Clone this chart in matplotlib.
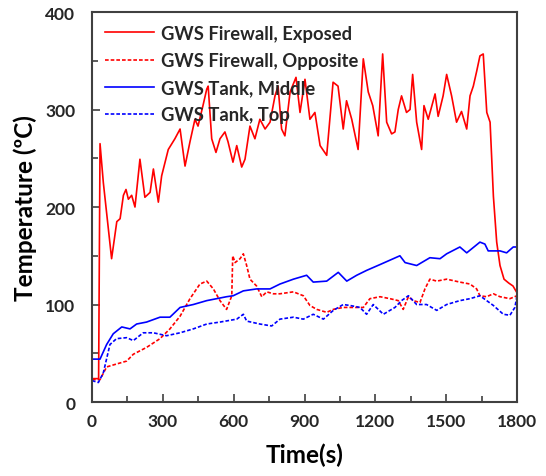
import matplotlib
matplotlib.use("Agg")
import matplotlib.pyplot as plt
from matplotlib.ticker import MultipleLocator

# Fire test: temperatures
t_exposed = [0, 28, 34, 48, 83, 105, 119, 133, 144, 154, 168, 182, 203, 224, 246, 260, 281,
             295, 323, 351, 373, 394, 415, 436, 449, 470, 486, 492, 507, 525, 542, 563, 576,
             597, 613, 634, 648, 669, 690, 711, 733, 754, 775, 788, 803, 817, 839, 864, 881,
             902, 923, 944, 966, 994, 1021, 1042, 1064, 1078, 1100, 1127, 1149, 1170, 1189,
             1212, 1231, 1248, 1269, 1283, 1297, 1311, 1332, 1347, 1358, 1375, 1396, 1406,
             1424, 1453, 1466, 1487, 1502, 1523, 1544, 1565, 1587, 1601, 1615, 1629, 1643,
             1657, 1672, 1686, 1700, 1714, 1728, 1745, 1765, 1783, 1800]
T_exposed = [24, 24, 265, 225, 147, 185, 188, 212, 218, 208, 212, 200, 249, 210, 215, 239, 205,
             232, 259, 270, 280, 242, 267, 290, 283, 304, 321, 324, 270, 256, 270, 277, 267,
             246, 263, 241, 249, 283, 270, 290, 280, 287, 314, 324, 280, 273, 318, 333, 297,
             331, 290, 297, 263, 253, 328, 324, 280, 309, 290, 259, 352, 318, 304,
             273, 357, 287, 275, 277, 300, 314, 297, 300, 336, 287, 259, 304,
             290, 316, 293, 314, 336, 314, 287, 298, 280, 314, 324, 339, 355,
             357, 297, 287, 211, 164, 140, 126, 122, 119, 112]

t_opposite = [0, 34, 62, 104, 147, 175, 231, 288, 330, 373, 415, 457, 486, 514, 542, 570, 592,
              596, 606, 627, 641, 655, 669, 697, 719, 740, 768, 796, 853, 895, 923, 952, 994,
              1022, 1064, 1107, 1149, 1177, 1220, 1262, 1297, 1318, 1340, 1361, 1389, 1410,
              1431, 1460, 1502, 1558, 1601, 1629, 1643, 1671, 1700, 1728, 1770, 1800]
T_opposite = [23, 23, 36, 39, 42, 49, 56, 65, 75, 88, 106, 121, 124, 116, 104, 95, 109,
              150, 143, 147, 152, 140, 126, 119, 108, 113, 111, 111, 113, 109, 99, 95, 92,
              95, 97, 97, 97, 106, 108, 106, 104, 95, 108, 104, 102, 116,
              126, 124, 126, 123, 121, 116, 109, 108, 111, 108, 106, 109]

t_middle = [0, 34, 62, 90, 126, 161, 189, 231, 288, 330, 373, 429, 486, 528, 570, 598, 641,
            697, 754, 796, 853, 909, 937, 994, 1043, 1079, 1121, 1163, 1220, 1276, 1304, 1326,
            1375, 1431, 1474, 1502, 1558, 1587, 1643, 1664, 1678, 1728, 1756, 1784, 1800]
T_middle = [44, 44, 59, 70, 77, 75, 80, 82, 87, 87, 97, 100, 104, 106, 108, 109, 114,
            116, 116, 121, 126, 130, 123, 124, 133, 124, 130, 135, 141, 147, 150, 143,
            140, 148, 147, 152, 159, 153, 164, 162, 155, 155, 153, 159, 159]

t_top = [0, 27, 48, 76, 104, 147, 175, 217, 260, 316, 373, 429, 486, 542, 613, 641, 655, 711,
         761, 796, 853, 895, 937, 980, 1022, 1064, 1093, 1135, 1163, 1191, 1234, 1283, 1311,
         1340, 1375, 1417, 1460, 1502, 1558, 1601, 1643, 1700, 1742, 1770, 1791, 1800]
T_top = [22, 20, 30, 59, 65, 66, 63, 71, 71, 68, 71, 75, 80, 82, 85, 90, 83, 80,
         78, 85, 87, 85, 90, 85, 94, 100, 99, 97, 90, 100, 90, 97, 104,
         109, 100, 100, 94, 100, 104, 106, 109, 99, 90, 89, 97, 109]

labels = ["GWS Firewall, Exposed", "GWS Firewall, Opposite", "GWS Tank, Middle", "GWS Tank, Top"]

plt.rcParams['font.family'] = ['Lato', 'DejaVu Sans']
plt.rcParams['font.weight'] = 'bold'

fig = plt.figure(figsize=(5.46, 4.77), dpi=100)
ax = fig.add_axes([0.1685, 0.1551, 0.7784, 0.8176])

dash = (0, (2.2, 1.2))
ax.plot(t_exposed, T_exposed, color='#ff0000', lw=1.2, label=labels[0])
ax.plot(t_opposite, T_opposite, color='#ff0000', lw=1.2, ls=dash, label=labels[1])
ax.plot(t_middle, T_middle, color='#0000ff', lw=1.2, label=labels[2])
ax.plot(t_top, T_top, color='#0000ff', lw=1.2, ls=dash, label=labels[3])

ax.set_xlim(0, 1800)
ax.set_ylim(0, 400)
ax.xaxis.set_major_locator(MultipleLocator(300))
ax.xaxis.set_minor_locator(MultipleLocator(150))
ax.yaxis.set_major_locator(MultipleLocator(100))
ax.yaxis.set_minor_locator(MultipleLocator(50))
ax.tick_params(which='both', direction='in', color='#404040', width=1.2)
ax.tick_params(which='major', length=6, labelsize=12.5)
ax.tick_params(axis='x', which='major', pad=8)
ax.tick_params(axis='y', which='major', pad=12)
ax.tick_params(which='minor', length=4)
for lab in ax.get_xticklabels() + ax.get_yticklabels():
    lab.set_fontweight('bold')
    lab.set_color('#262626')
for s in ax.spines.values():
    s.set_color('#404040')
    s.set_linewidth(1.5)

ax.set_xlabel("Time(s)", fontsize=17.5, fontweight='bold', labelpad=10)
ax.set_ylabel("Temperature (ºC)", fontsize=17.5, fontweight='bold', labelpad=6)

leg = ax.legend(loc='upper left', frameon=False, fontsize=13.2, handlelength=2.7,
                labelspacing=0.55, borderaxespad=0.3, borderpad=0.4, handletextpad=0.35)
for txt in leg.get_texts():
    txt.set_fontweight('bold')
    txt.set_color('#262626')

fig.savefig("out.png", dpi=100)
